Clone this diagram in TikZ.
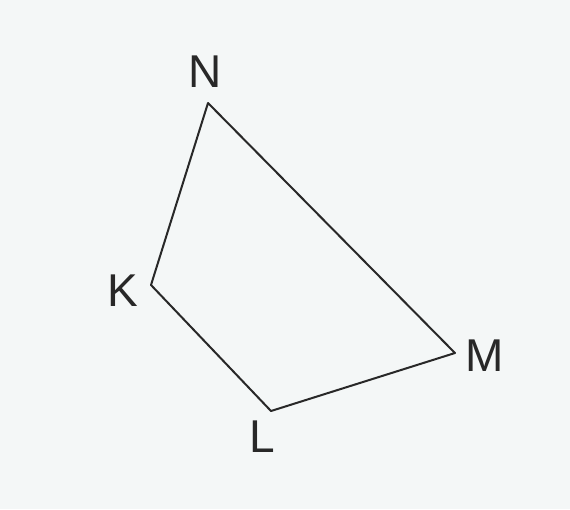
\documentclass[tikz,border=0pt]{standalone}
\usepackage{fontspec}
\setmainfont{Liberation Sans}
\definecolor{bg}{RGB}{244,247,247}
\definecolor{ink}{RGB}{40,40,40}
\begin{document}
\begin{tikzpicture}[x=1pt,y=-1pt,
  lbl/.style={font=\fontsize{46}{50}\selectfont, inner sep=0pt, text=ink},
  edge/.style={draw=ink, line width=2pt, line join=round}]
\fill[bg] (0,0) rectangle (570,509);
\useasboundingbox (0,0) rectangle (570,509);
\coordinate (N) at (208,103);
\coordinate (K) at (151,285);
\coordinate (L) at (271,411);
\coordinate (M) at (455,353);
\draw[edge] (N) -- (K) -- (L) -- (M) -- cycle;
\node[lbl] (nN) at (205,72) {N};
\node[lbl] (nK) at (123,291) {K};
\node[lbl] (nL) at (262,437) {L};
\node[lbl] (nM) at (485,356) {M};
\end{tikzpicture}
\end{document}
